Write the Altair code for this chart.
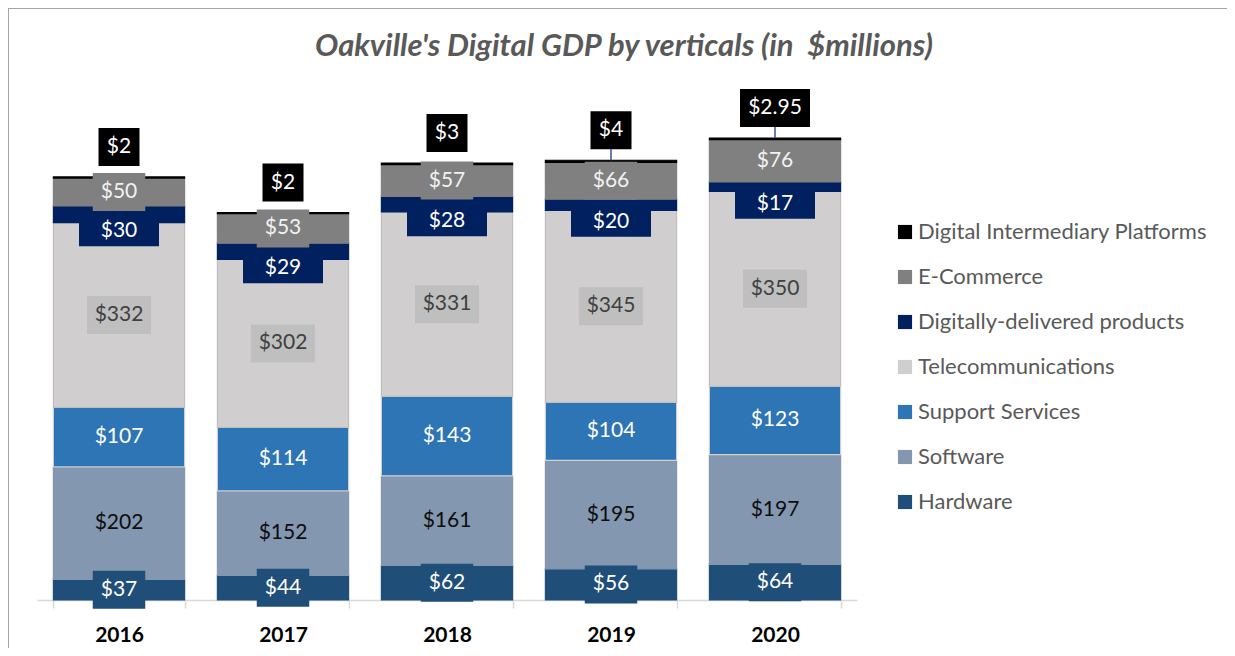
import altair as alt
import pandas as pd

# ---- data ----
years = ["2016", "2017", "2018", "2019", "2020"]
hardware = [37, 44, 62, 56, 64]
software = [202, 152, 161, 195, 197]
support_services = [107, 114, 143, 104, 123]
telecommunications = [332, 302, 331, 345, 350]
digital_products = [30, 29, 28, 20, 17]
ecommerce = [50, 53, 57, 66, 76]
platforms = [2, 2, 3, 4, 2.95]
series_names = ["Hardware", "Software", "Support Services", "Telecommunications",
                "Digitally-delivered products", "E-Commerce", "Digital Intermediary Platforms"]
leader_years = ["2019", "2020"]
title_text = "Oakville's Digital GDP by verticals (in\u00a0 $millions)"

# ---- styles ----
FONT = "Lato"
fills = {
    "Hardware": "#1f4e79",
    "Software": "#8497b0",
    "Support Services": "#2e75b6",
    "Telecommunications": "#d0cece",
    "Digitally-delivered products": "#002060",
    "E-Commerce": "#808080",
    "Digital Intermediary Platforms": "#000000",
}
strokes = {
    "Hardware": "#1f4e79",
    "Software": "#8497b0",
    "Support Services": "#d0d0d0",
    "Telecommunications": "#bfbfbf",
    "Digitally-delivered products": "#002060",
    "E-Commerce": "#808080",
    "Digital Intermediary Platforms": "#000000",
}
box_fill = {
    "Hardware": "#1f4e79",
    "Telecommunications": "#bfbfbf",
    "Digitally-delivered products": "#002060",
    "E-Commerce": "#808080",
    "Digital Intermediary Platforms": "#000000",
}
text_col = {
    "Hardware": "#ffffff",
    "Software": "#0d0d0d",
    "Support Services": "#ffffff",
    "Telecommunications": "#404040",
    "Digitally-delivered products": "#ffffff",
    "E-Commerce": "#f2f2f2",
    "Digital Intermediary Platforms": "#ffffff",
}

all_vals = [hardware, software, support_services, telecommunications,
            digital_products, ecommerce, platforms]
rows = []
for i, yr in enumerate(years):
    base = 0.0
    for name, vals in zip(series_names, all_vals):
        v = vals[i]
        lab = f"${v:g}"
        bw = 11.5 * len(lab) + 18
        if name == "Digitally-delivered products":
            bw = 80
        if lab == "$2.95":
            bw = 70
        rows.append(dict(year=yr, series=name, value=v, y0=base, y1=base + v,
                         mid=base + v / 2, label=lab, bw=bw,
                         fill=fills[name], stroke=strokes[name],
                         box=box_fill.get(name, fills[name]), tc=text_col[name]))
        base += v
df = pd.DataFrame(rows)

legend_order = series_names[::-1]
legend_colors = [fills[s] for s in legend_order]

X = alt.X("year:O", sort=years,
          scale=alt.Scale(paddingInner=0.2, paddingOuter=0.1),
          axis=alt.Axis(title=None, labelAngle=0, labelFont=FONT, labelFontSize=21,
                        labelFontWeight="bold", labelColor="#000000", labelPadding=16,
                        domainColor="#d9d9d9", domainWidth=1.5, tickColor="#d9d9d9",
                        tickWidth=1.5, tickSize=8, tickBand="extent"))
YS = alt.Scale(domain=[0, 900])

bars = alt.Chart(df).mark_bar(strokeWidth=1.2).encode(
    x=X,
    y=alt.Y("y0:Q", scale=YS, axis=None),
    y2="y1:Q",
    color=alt.Color("series:N", scale=alt.Scale(domain=legend_order, range=legend_colors),
                    legend=alt.Legend(title=None, orient="none", direction="vertical",
                                      legendX=857, legendY=122, symbolType="square",
                                      symbolSize=200, symbolStrokeWidth=0,
                                      labelFont=FONT, labelFontSize=22, labelColor="#595959",
                                      labelLimit=0, labelOffset=2, rowPadding=23,
                                      padding=0)),
    stroke=alt.Stroke("stroke:N", scale=None),
)

normal = df[df.series.isin(["Hardware", "Software", "Support Services",
                            "Telecommunications", "E-Commerce"])]
boxed = normal[normal.series.isin(["Hardware", "Telecommunications", "E-Commerce"])]
ddp = df[df.series == "Digitally-delivered products"]
dip = df[df.series == "Digital Intermediary Platforms"]
lead = dip[dip.year.isin(leader_years)]

box_normal = alt.Chart(boxed).mark_bar(yOffset=-19, y2Offset=19).encode(
    x=X, y=alt.Y("mid:Q", scale=YS), y2="mid:Q",
    size=alt.Size("bw:Q", scale=None), fill=alt.Fill("box:N", scale=None))
box_ddp = alt.Chart(ddp).mark_bar(yOffset=2, y2Offset=32).encode(
    x=X, y=alt.Y("mid:Q", scale=YS), y2="mid:Q",
    size=alt.Size("bw:Q", scale=None), fill=alt.Fill("box:N", scale=None))
box_dip = alt.Chart(dip).mark_bar(yOffset=-49, y2Offset=-11).encode(
    x=X, y=alt.Y("y1:Q", scale=YS), y2="y1:Q",
    size=alt.Size("bw:Q", scale=None), fill=alt.Fill("box:N", scale=None))

leader = alt.Chart(lead).mark_rule(y2Offset=-11, color="#2f5597", strokeWidth=1.5).encode(
    x=X, y=alt.Y("y1:Q", scale=YS), y2="y1:Q")

def texts(d, ycol, dy):
    return alt.Chart(d).mark_text(font=FONT, fontSize=21, baseline="middle",
                                  align="center", dy=dy).encode(
        x=X, y=alt.Y(f"{ycol}:Q", scale=YS), text="label:N",
        color=alt.Color("tc:N", scale=None))

txt_normal = texts(normal, "mid", 0)
txt_ddp = texts(ddp, "mid", 17)
txt_dip = texts(dip, "y1", -30)

frame = pd.DataFrame({"t": [title_text]})
title = alt.Chart(frame).mark_text(font=FONT, fontSize=31, fontStyle="italic",
                                   fontWeight="bold", color="#595959",
                                   align="center", baseline="middle").encode(
    x=alt.value(587), y=alt.value(-52), text="t:N")
border_top = alt.Chart(frame).mark_rule(color="#a6a6a6", strokeWidth=2).encode(
    x=alt.value(-29), x2=alt.value(1200), y=alt.value(-91))
border_left = alt.Chart(frame).mark_rule(color="#a6a6a6", strokeWidth=2).encode(
    x=alt.value(-29), y=alt.value(-91), y2=alt.value(560))

chart = alt.layer(
    bars, leader, box_normal, box_ddp, box_dip, txt_normal, txt_ddp, txt_dip,
    title, border_top, border_left,
).properties(
    width=820, height=501,
    autosize=alt.AutoSizeParams(type="none"),
    padding={"left": 29, "top": 91, "right": 370, "bottom": 48},
).configure_view(stroke=None)

chart.save("out.html", embed_options={"renderer": "svg", "actions": False})
